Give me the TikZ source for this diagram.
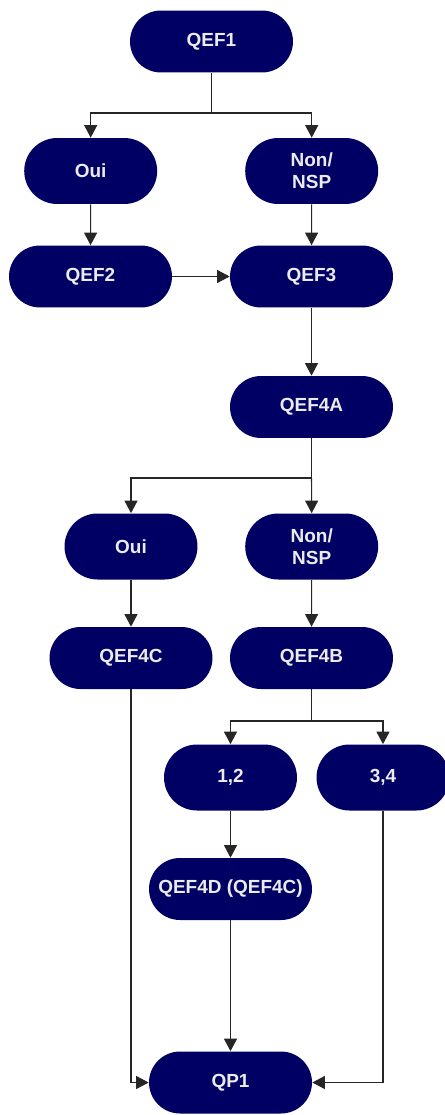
\documentclass[tikz,border=0pt]{standalone}
\usepackage{fontspec}
\setmainfont{Liberation Sans}
\usetikzlibrary{arrows.meta}
\definecolor{NavyBox}{RGB}{0,0,100}

\begin{document}
\begin{tikzpicture}[x=0.02cm, y=-0.02cm,
    QNode/.style={fill=NavyBox, text=white!92!black, font=\fontsize{10.8}{12.6}\selectfont\bfseries,
        minimum width=3.26cm, minimum height=1.24cm, rounded corners=0.62cm, inner sep=0pt, align=center},
    ANode/.style={QNode, minimum width=2.66cm, minimum height=1.32cm, rounded corners=0.66cm},
    Link/.style={draw=black!85, line width=0.6pt, -{Triangle[length=0.25cm, width=0.26cm]}}]
            %le fond fixe la taille de l'image
            \useasboundingbox (0,0) rectangle (445,1115);

            \node[QNode] (QEF1) at (211.5,41.5) {QEF1};
            \node[ANode] (Oui1) at (90.7,171) {Oui};
            \node[ANode] (Non1) at (311.7,171) {Non/\\NSP};
            \node[QNode] (QEF2) at (90.5,276.5) {QEF2};
            \node[QNode] (QEF3) at (311.5,276.5) {QEF3};
            \node[QNode] (QEF4A) at (311.5,407) {QEF4A};
            \node[ANode] (Oui2) at (131,546.5) {Oui};
            \node[ANode] (Non2) at (311.7,546.5) {Non/\\NSP};
            \node[QNode] (QEF4C) at (131,658) {QEF4C};
            \node[QNode] (QEF4B) at (311.5,658) {QEF4B};
            \node[ANode] (Rep12) at (230.5,777.5) {1,2};
            \node[ANode] (Rep34) at (383,777.5) {3,4};
            \node[QNode] (QEF4D) at (230.5,889) {QEF4D (QEF4C)};
            \node[QNode] (QP1) at (230.5,1082.5) {QP1};

            \coordinate (Split1) at (211.5,113);
            \coordinate (Split2) at (311.5,478);
            \coordinate (Split3) at (311.5,721);

            \draw [Link, -] (QEF1.south) -- (Split1);
            \draw [Link] (Split1) -| (Oui1.north);
            \draw [Link] (Split1) -| (Non1.north);
            \draw [Link] (Oui1) -- (QEF2);
            \draw [Link] (Non1) -- (QEF3);
            \draw [Link] (QEF2) -- (QEF3);
            \draw [Link] (QEF3) -- (QEF4A);

            \draw [Link, -] (QEF4A.south) -- (Split2);
            \draw [Link] (Split2) -| (Oui2.north);
            \draw [Link] (Split2) -- (Non2.north);
            \draw [Link] (Oui2) -- (QEF4C);
            \draw [Link] (Non2) -- (QEF4B);

            \draw [Link, -] (QEF4B.south) -- (Split3);
            \draw [Link] (Split3) -| (Rep12.north);
            \draw [Link] (Split3) -| (Rep34.north);
            \draw [Link] (Rep12) -- (QEF4D);
            \draw [Link] (QEF4D) -- (QP1);
            \draw [Link] (QEF4C.south) |- (QP1.west);
            \draw [Link] (Rep34.south) |- (QP1.east);
\end{tikzpicture}
\end{document}
